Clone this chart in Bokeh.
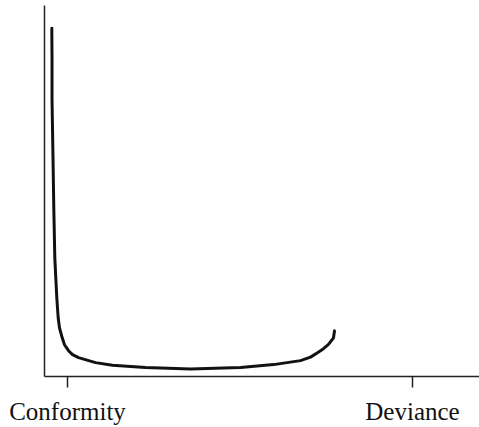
from bokeh.plotting import figure
from bokeh.models import Range1d, FixedTicker, ColumnDataSource
from bokeh.embed import file_html
from bokeh.resources import INLINE

# Data (x: 0 = Conformity, 1 = Deviance; y: relative height above axis)
curve_x = [-0.0455, -0.0449, -0.0449, -0.0420, -0.0397, -0.0368, -0.0310, -0.0270,
           -0.0232, -0.0154, -0.0087, 0.0029, 0.0145, 0.0319, 0.0812, 0.1304,
           0.2261, 0.3565, 0.5014, 0.5971, 0.6754, 0.7043, 0.7246, 0.7420,
           0.7565, 0.7710, 0.7739]
curve_y = [0.946, 0.860, 0.752, 0.590, 0.4555, 0.3208, 0.2129, 0.1590,
           0.1321, 0.1051, 0.0863, 0.0701, 0.0593, 0.0512, 0.0377, 0.0305,
           0.0243, 0.0202, 0.0243, 0.0323, 0.0431, 0.0526, 0.0647, 0.0755,
           0.0871, 0.1051, 0.1240]
tick_positions = [0, 1]
tick_labels = ["Conformity", "Deviance"]

src = ColumnDataSource(data=dict(x=curve_x, y=curve_y))

p = figure(width=479, height=427, output_backend="svg", toolbar_location=None,
           x_range=Range1d(-0.0667, 1.1942), y_range=Range1d(0, 1.008),
           min_border_left=44, min_border_right=0, min_border_top=5,
           min_border_bottom=48, background_fill_color="white",
           border_fill_color="white")
p.outline_line_color = None
p.xgrid.visible = False
p.ygrid.visible = False

p.line("x", "y", source=src, line_width=3, line_color="#111111",
       line_join="round", line_cap="round")

# bottom axis
xa = p.xaxis[0]
xa.ticker = FixedTicker(ticks=tick_positions)
xa.major_label_overrides = {t: l for t, l in zip(tick_positions, tick_labels)}
xa.minor_tick_line_color = None
xa.major_tick_in = 0
xa.major_tick_out = 11
xa.major_tick_line_color = "#222222"
xa.major_tick_line_width = 1.5
xa.axis_line_color = "#222222"
xa.axis_line_width = 1.5
xa.major_label_text_font = "Liberation Serif"
xa.major_label_text_font_size = "25px"
xa.major_label_text_color = "#111111"
xa.major_label_standoff = 10

# left axis
ya = p.yaxis[0]
ya.ticker = FixedTicker(ticks=[])
ya.minor_tick_line_color = None
ya.major_tick_line_color = None
ya.major_label_text_font_size = "0px"
ya.axis_line_color = "#222222"
ya.axis_line_width = 1.5

open("out.html", "w").write(file_html(p, INLINE))
